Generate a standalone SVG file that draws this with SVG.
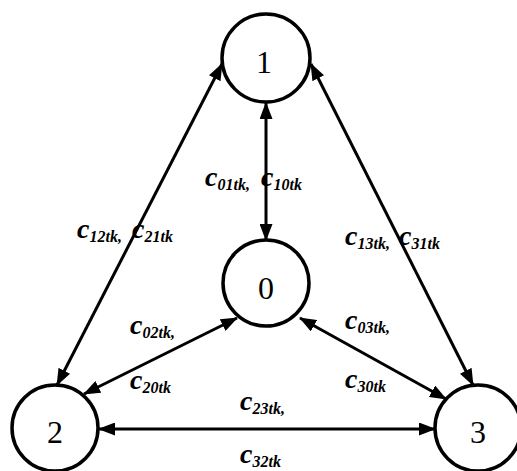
<svg xmlns="http://www.w3.org/2000/svg" width="517" height="471" viewBox="0 0 517 471">
<style>
.node circle{fill:#fff;stroke:#000;stroke-width:3.5}
.num{font-family:"Liberation Serif",serif;font-size:32px;text-anchor:middle;fill:#000}
.edge{stroke:#000;stroke-width:3;fill:none;marker-start:url(#ah);marker-end:url(#ah)}
.lbl{font-family:"Liberation Serif",serif;font-weight:bold;font-style:italic;fill:#000}
.c{font-size:28px}
.s{font-size:16px}
</style>
<defs>
<marker id="ah" markerUnits="userSpaceOnUse" markerWidth="17" markerHeight="13" refX="16" refY="6.5" orient="auto-start-reverse">
<path d="M0,0 L17,6.5 L0,13 z" fill="#000"/>
</marker>
</defs>
<rect width="517" height="471" fill="#fff"/>
<g id="connectors">
<line class="edge" x1="266" y1="103" x2="266" y2="240"/>
<line class="edge" x1="222" y1="64" x2="57" y2="385"/>
<line class="edge" x1="311" y1="64" x2="473" y2="385"/>
<line class="edge" x1="237" y1="318" x2="84" y2="394"/>
<line class="edge" x1="300" y1="318" x2="446" y2="399"/>
<line class="edge" x1="99" y1="429" x2="435" y2="429"/>
</g>
<g id="node1" class="node"><circle cx="266" cy="58" r="44"/><text class="num" x="264" y="73">1</text></g>
<g id="node0" class="node"><circle cx="266" cy="283" r="43"/><text class="num" x="266" y="299">0</text></g>
<g id="node2" class="node"><circle cx="55" cy="428" r="43"/><text class="num" x="55" y="443">2</text></g>
<g id="node3" class="node"><circle cx="478" cy="428" r="43"/><text class="num" x="478" y="443">3</text></g>
<g id="labels">
<text class="lbl" x="205" y="186"><tspan class="c">c</tspan><tspan class="s" dy="4">01tk,</tspan></text>
<text class="lbl" x="261" y="186"><tspan class="c">c</tspan><tspan class="s" dy="4">10tk</tspan></text>
<text class="lbl" x="77" y="238"><tspan class="c">c</tspan><tspan class="s" dy="4">12tk,</tspan></text>
<text class="lbl" x="132" y="238"><tspan class="c">c</tspan><tspan class="s" dy="4">21tk</tspan></text>
<text class="lbl" x="345" y="245"><tspan class="c">c</tspan><tspan class="s" dy="4">13tk,</tspan></text>
<text class="lbl" x="399" y="245"><tspan class="c">c</tspan><tspan class="s" dy="4">31tk</tspan></text>
<text class="lbl" x="130" y="334"><tspan class="c">c</tspan><tspan class="s" dy="4">02tk,</tspan></text>
<text class="lbl" x="130" y="389"><tspan class="c">c</tspan><tspan class="s" dy="4">20tk</tspan></text>
<text class="lbl" x="345" y="329"><tspan class="c">c</tspan><tspan class="s" dy="4">03tk,</tspan></text>
<text class="lbl" x="345" y="388"><tspan class="c">c</tspan><tspan class="s" dy="4">30tk</tspan></text>
<text class="lbl" x="240" y="410"><tspan class="c">c</tspan><tspan class="s" dy="4">23tk,</tspan></text>
<text class="lbl" x="240" y="463"><tspan class="c">c</tspan><tspan class="s" dy="4">32tk</tspan></text>
</g>
</svg>
